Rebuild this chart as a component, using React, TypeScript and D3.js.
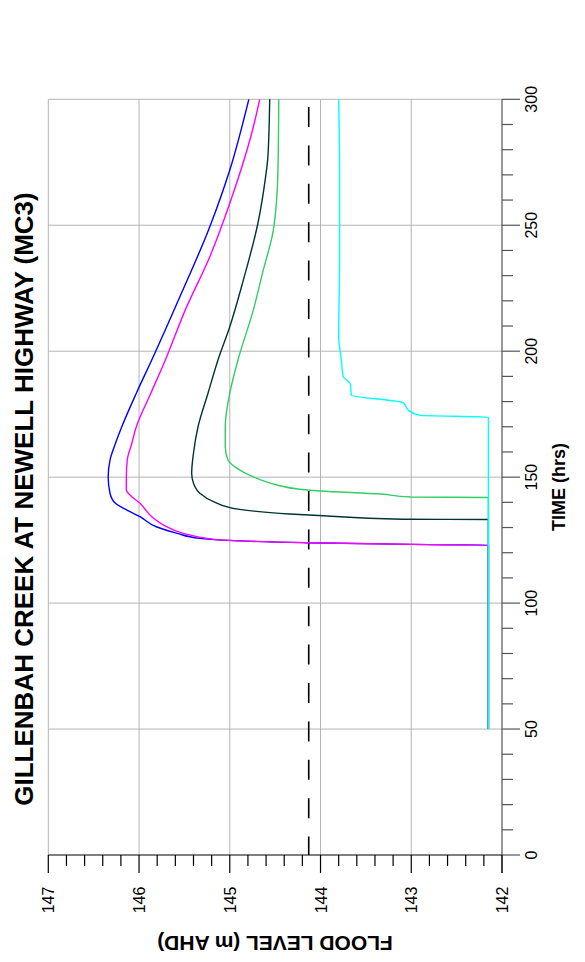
import React, { useEffect } from 'react';
import * as d3 from 'd3';

const W = 585;
const H = 962;

const timeTicks = [0, 50, 100, 150, 200, 250, 300];
const levelTicks = [147, 146, 145, 144, 143, 142];
const chartTitle = 'GILLENBAH CREEK AT NEWELL HIGHWAY (MC3)';
const timeTitle = 'TIME (hrs)';
const levelTitle = 'FLOOD LEVEL (m AHD)';
const thresholdLevel = 144.13;

const blueTime = [50, 123.0, 123.3, 124.0, 124.7, 125.7, 127.7, 130.3, 134.3, 136.3, 139.6, 143.6, 150, 156.8, 163.4, 170, 183.3, 196.5, 221.6, 249.4, 271.9, 300];
const blueLevel = [142.15, 142.15, 142.99, 144.19, 144.89, 145.33, 145.58, 145.81, 145.99, 146.10, 146.26, 146.32, 146.34, 146.32, 146.26, 146.19, 146.03, 145.86, 145.55, 145.22, 145.00, 144.79];

const magentaTime = [50, 123.0, 123.3, 124.0, 125.0, 125.7, 127.7, 131.0, 134.3, 139.6, 142.9, 144.9, 150, 156.8, 163.4, 170, 183.3, 196.5, 216.4, 237.5, 258.7, 289.1, 300];
const magentaLevel = [142.15, 142.15, 142.99, 144.19, 145.07, 145.25, 145.51, 145.73, 145.86, 145.99, 146.10, 146.14, 146.14, 146.13, 146.08, 146.03, 145.87, 145.71, 145.49, 145.22, 145.00, 144.74, 144.67];

const darkTime = [50, 133.2, 133.3, 134.7, 135.4, 137.2, 140.3, 143.6, 147.6, 151.5, 159.5, 170, 183.3, 196.5, 209.7, 228.3, 250.8, 268, 277.2, 300];
const darkLevel = [142.15, 142.15, 143.09, 143.97, 144.34, 144.89, 145.18, 145.33, 145.40, 145.42, 145.40, 145.35, 145.24, 145.13, 145.00, 144.85, 144.69, 144.61, 144.58, 144.56];

const greenTime = [50, 141.95, 142.1, 143.3, 144.5, 145.2, 146.9, 149.5, 153.5, 156.8, 162.1, 170, 183.3, 196.5, 216.4, 230.9, 248.1, 270.6, 300];
const greenLevel = [142.15, 142.15, 143.01, 143.34, 144.0, 144.23, 144.48, 144.70, 144.92, 145.02, 145.05, 145.05, 145.00, 144.91, 144.74, 144.64, 144.52, 144.47, 144.46];

const cyanTime = [50, 173.8, 174.5, 176.5, 179.6, 182.6, 186.6, 187.9, 189.9, 196.5, 205.8, 236.2, 271.9, 300];
const cyanLevel = [142.15, 142.15, 142.9, 143.03, 143.09, 143.66, 143.67, 143.69, 143.75, 143.77, 143.80, 143.79, 143.79, 143.80];

const series = [
  { name: 'blue', time: blueTime, level: blueLevel, color: '#0000ff' },
  { name: 'magenta', time: magentaTime, level: magentaLevel, color: '#ff00ff' },
  { name: 'dark', time: darkTime, level: darkLevel, color: '#003333' },
  { name: 'green', time: greenTime, level: greenLevel, color: '#33cc66' },
  { name: 'cyan', time: cyanTime, level: cyanLevel, color: '#00ffff' },
];

const FONT = '"Liberation Sans", Arial, Helvetica, sans-serif';

export default function App() {
  useEffect(() => {
    document.body.style.margin = '0';
  }, []);

  const xL = d3.scaleLinear().domain([147, 142]).range([48.3, 502]);
  const yT = d3.scaleLinear().domain([0, 300]).range([855, 99.3]);

  const line = d3
    .line<[number, number]>()
    .x((d) => xL(d[1]))
    .y((d) => yT(d[0]))
    .curve(d3.curveMonotoneY);

  const timeMinor = d3.range(0, 301, 10);
  const levelMinor = d3.range(0, 26).map((i) => 142 + i * 0.2);

  const left = xL(147);
  const right = xL(142);
  const top = yT(300);
  const bottom = yT(0);

  return (
    <svg
      width={W}
      height={H}
      style={{ position: 'absolute', left: 0, top: 0, background: '#fff' }}
      fontFamily={FONT}
    >
      <rect x={0} y={0} width={W} height={H} fill="#fff" />
      {/* grid */}
      {levelTicks
        .filter((v) => v !== 147 && v !== 142)
        .map((v) => (
          <line key={'gx' + v} x1={xL(v)} x2={xL(v)} y1={top} y2={bottom} stroke="#b4b4b4" strokeWidth={1} />
        ))}
      {timeTicks
        .filter((t) => t !== 0 && t !== 300)
        .map((t) => (
          <line key={'gy' + t} x1={left} x2={right} y1={yT(t)} y2={yT(t)} stroke="#b4b4b4" strokeWidth={1} />
        ))}
      {/* frame top & left */}
      <line x1={left} x2={right} y1={top} y2={top} stroke="#b4b4b4" strokeWidth={1} />
      <line x1={left} x2={left} y1={top} y2={bottom} stroke="#b4b4b4" strokeWidth={1} />

      {/* threshold dashed line */}
      <line
        x1={xL(thresholdLevel)}
        x2={xL(thresholdLevel)}
        y1={top}
        y2={bottom}
        stroke="#000"
        strokeWidth={1.6}
        strokeDasharray="20 18.4"
        strokeDashoffset={30.7}
      />

      {/* series */}
      {series.map((s) => (
        <path
          key={s.name}
          d={line(s.time.map((t, i) => [t, s.level[i]] as [number, number])) || ''}
          fill="none"
          stroke={s.color}
          strokeWidth={1.4}
          strokeLinejoin="round"
        />
      ))}

      {/* right (time) axis */}
      <line x1={right} x2={right} y1={top} y2={bottom + 18} stroke="#555" strokeWidth={1.2} />
      {timeMinor.map((t) => (
        <line
          key={'tt' + t}
          x1={right}
          x2={right + (t % 50 === 0 ? 18 : 11)}
          y1={yT(t)}
          y2={yT(t)}
          stroke="#555"
          strokeWidth={1.2}
        />
      ))}
      {timeTicks.map((t) => (
        <text
          key={'tl' + t}
          transform={`translate(537,${yT(t)}) rotate(-90)`}
          textAnchor="middle"
          fontSize={16}
          fill="#000"
        >
          {t}
        </text>
      ))}
      <text
        transform={`translate(565,487) rotate(-90)`}
        textAnchor="middle"
        fontSize={18}
        fontWeight="bold"
        fill="#000"
      >
        {timeTitle}
      </text>

      {/* bottom (level) axis */}
      <line x1={left} x2={right} y1={bottom} y2={bottom} stroke="#000" strokeWidth={1.2} />
      {levelMinor.map((v, i) => (
        <line
          key={'lt' + i}
          x1={xL(v)}
          x2={xL(v)}
          y1={bottom}
          y2={bottom + (i % 5 === 0 ? 18 : 11)}
          stroke="#000"
          strokeWidth={1.2}
        />
      ))}
      {levelTicks.map((v) => (
        <text
          key={'ll' + v}
          transform={`translate(${xL(v) + 6},900) rotate(-90)`}
          textAnchor="middle"
          fontSize={16}
          fill="#000"
        >
          {v}
        </text>
      ))}
      <text
        transform={`translate(275,936) rotate(180)`}
        textAnchor="middle"
        fontSize={21}
        fontWeight="bold"
        fill="#000"
      >
        {levelTitle}
      </text>

      {/* chart title */}
      <text
        transform={`translate(33,499) rotate(-90)`}
        textAnchor="middle"
        fontSize={26}
        fontWeight="bold"
        fill="#000"
      >
        {chartTitle}
      </text>
    </svg>
  );
}
